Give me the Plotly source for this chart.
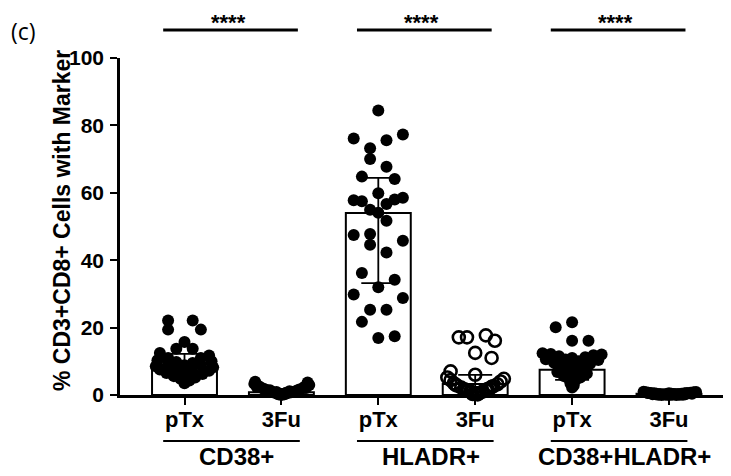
import plotly.graph_objects as go

# ---------------- data ----------------
categories = ["pTx", "3Fu", "pTx", "3Fu", "pTx", "3Fu"]
groups = ["CD38+", "HLADR+", "CD38+HLADR+"]
significance = ["****", "****", "****"]
y_ticks = [0, 20, 40, 60, 80, 100]
y_title = "% CD3+CD8+ Cells with Marker"
panel_label = "(c)"

bar_values = [9.0, 0.8, 54.0, 3.3, 7.5, 0.4]
err_plus = [3.2, 0.6, 10.4, 2.7, 3.5, 0.3]
err_minus = [2.5, 0.5, 20.8, 2.5, 3.0, 0.3]

cd38_ptx = [22.1, 22.1, 19.4, 19.4, 15.7, 13.7, 13.7, 12.5, 11.7, 11.0, 11.0,
            10.3, 10.0, 9.8, 9.5, 9.2, 9.0, 8.8, 8.5, 8.2, 8.0,
            7.6, 7.2, 7.0, 6.8, 6.5, 6.2, 6.0, 5.6, 5.2, 4.8, 4.3, 3.5]
cd38_ptx_slot = [-2, 1, -2, 2, 0, -1, 1, -3, 3, -2, 2,
                 -3.3, 3.3, -1, 1, -2, 2, 0, -3.5, 3.5, -1.5,
                 -3, 3, -1, 1, -2.2, 2.2, 0, -1.3, 1.3, -0.5, 0.6, 0]

cd38_3fu = [3.9, 3.7, 3.3, 3.0, 2.7, 2.5, 2.2, 2.0, 1.8, 1.6, 1.5, 1.3, 1.2, 1.0,
            0.9, 0.8, 0.7, 0.6, 0.5, 0.5, 0.4, 0.3, 0.3, 0.2, 0.2, 0.1, 0.1,
            1.4, 1.1, 0.9, 0.7, 2.4, 2.1]
cd38_3fu_slot = [-3.2, 3.2, -3.3, 3.4, -2.8, 2.9, -2.5, 2.6, -2.1, 2.2, -1.8, 1.9,
                 -1.5, 1.5, -1.1, 1.2, -0.8, 0.8, -0.5, 0.5, -0.2, 0.2, 0, -0.4,
                 0.4, -0.1, 0.1, -1.4, 1.0, -0.6, 0.6, -3.0, 3.0]

hladr_ptx = [84.4, 76.1, 75.6, 77.3, 73.2, 70.0, 67.7, 64.8, 64.1, 59.9, 57.8,
             57.5, 56.7, 58.0, 58.5, 55.0, 54.1, 51.7, 47.5, 47.8, 44.6, 45.8,
             42.3, 36.2, 34.2, 32.0, 29.8, 28.8, 25.3, 25.3, 21.7, 16.9, 17.4]
hladr_ptx_slot = [0, -3, 1, 3, -1, -1, 1, -2, 2, 0, -3,
                  -2, 1, 2, 3, -1, 0, 1, -3, -1, -1, 3,
                  1, -2, 2, 0, -3, 3, -1, 1, -2, 0, 2]

hladr_3fu = [17.1, 17.1, 17.7, 16.1, 12.5, 11.0, 7.0, 6.0,
             5.2, 4.8, 4.4, 4.0, 3.5, 3.2, 2.8, 2.6, 2.2, 2.0, 1.7, 1.5, 1.2,
             1.0, 0.8, 0.6, 0.4, 0.3, 0.2, 1.4, 1.8, 3.0, 0.5, 2.4, 1.1]
hladr_3fu_slot = [-2, -1, 1.3, 2.4, 0, 2, -3, 0,
                  -3.4, 3.5, -3, 3.1, -2.6, 2.7, -2.2, 2.2, -1.7, 1.8, -1.3, 1.3,
                  -0.9, 0.9, -0.5, 0.5, 0, -0.3, 0.3, -1.0, 1.5, -2.4, 0.1, 2.0, -0.6]

dual_ptx = [21.6, 20.1, 16.1, 16.1, 12.4, 12.0, 12.2, 11.8, 11.5, 11.2, 11.0,
            10.6, 10.4, 10.5, 10.0, 9.6, 9.3, 9.0, 8.4, 8.0, 7.6, 7.2, 6.8, 6.4,
            6.0, 5.6, 5.2, 4.8, 4.4, 4.0, 3.4, 2.8, 2.2]
dual_ptx_slot = [0, -2, 0, 2, -3.6, 3.6, -2.6, 2.6, -1.6, 1.6, 0,
                 -3.2, 3.2, -0.8, 0.8, -2.2, 2.2, 0, -1.4, 1.4, -0.6, 0.6, -1.8,
                 1.8, 0, -1.0, 1.0, -0.4, 0.4, 0, -0.2, 0.2, 0]

dual_3fu = [1.0, 0.9, 0.8, 0.8, 0.7, 0.7, 0.6, 0.6, 0.5, 0.5, 0.5, 0.4, 0.4,
            0.4, 0.3, 0.3, 0.3, 0.3, 0.2, 0.2, 0.2, 0.2, 0.1, 0.1, 0.1, 0.1,
            0.0, 0.0, 0.0, 0.6, 0.4, 0.2, 0.1]
dual_3fu_slot = [-3.1, 3.3, -2.8, 3.0, -2.5, 2.6, -2.2, 2.2, -1.8, 1.9, 0, -1.5,
                 1.5, 0.3, -1.1, 1.1, -0.3, 0.6, -0.7, 0.8, -2.0, 2.0, -0.4, 0.4,
                 -1.3, 1.3, 0, -0.9, 0.9, -2.6, 2.8, -1.6, 1.7]

point_sets = [
    (cd38_ptx, cd38_ptx_slot, False),
    (cd38_3fu, cd38_3fu_slot, False),
    (hladr_ptx, hladr_ptx_slot, False),
    (hladr_3fu, hladr_3fu_slot, True),
    (dual_ptx, dual_ptx_slot, False),
    (dual_3fu, dual_3fu_slot, False),
]

# ---------------- styling ----------------
FONT = "Liberation Sans"
SLOT = 0.0846          # horizontal jitter step (category units)
BAR_W = 0.67
WIN_W, WIN_H = 731, 476
BODY = 8               # default page margin around the plot div
W, H = WIN_W - BODY, WIN_H - BODY
# plot area in window pixels: x 120..731, y 58..395
PL, PR, PT, PB = 120, 731, 58, 395
ML = PL - BODY
MR = 0
MT = PT - BODY
MB = WIN_H - PB
PH = PB - PT
PW = PR - PL


def py(win_y):
    """window pixel row -> paper y"""
    return (PB - win_y) / PH


def pxx(win_x):
    return (win_x - PL) / PW


def bold(size):
    return dict(family=FONT, size=size, color="black", weight="bold")


positions = list(range(len(categories)))

fig = go.Figure()

fig.add_trace(go.Bar(
    x=positions, y=bar_values, width=BAR_W,
    marker=dict(color="white", line=dict(color="black", width=2)),
    error_y=dict(type="data", symmetric=False, array=err_plus,
                 arrayminus=err_minus, color="black", thickness=1.8, width=17),
    showlegend=False, hoverinfo="skip",
))

for i, (vals, slots, is_open) in enumerate(point_sets):
    xs = [positions[i] + s * SLOT for s in slots]
    if is_open:
        marker = dict(symbol="circle-open", size=12, color="black",
                      line=dict(color="black", width=2.6))
    else:
        marker = dict(symbol="circle", size=12, color="black",
                      line=dict(width=0))
    fig.add_trace(go.Scatter(x=xs, y=vals, mode="markers", marker=marker,
                             cliponaxis=False, showlegend=False))

shapes = []
annotations = []
for g, name in enumerate(groups):
    a = positions[2 * g]
    b = positions[2 * g + 1]
    # significance line
    shapes.append(dict(type="line", xref="x", yref="paper",
                       x0=a - 0.22, x1=b + 0.17, y0=py(30), y1=py(30),
                       line=dict(color="black", width=3)))
    annotations.append(dict(xref="x", yref="paper", x=(a + b) / 2 - 0.05,
                            y=py(8.5), text=significance[g], showarrow=False,
                            xanchor="center", yanchor="top", borderpad=0,
                            font=bold(22)))
    # group underline + label
    shapes.append(dict(type="line", xref="x", yref="paper",
                       x0=a - 0.22, x1=b + 0.19, y0=py(441), y1=py(441),
                       line=dict(color="black", width=2)))
    annotations.append(dict(xref="x", yref="paper", x=(a + b) / 2 + 0.04,
                            y=py(457), text=name, showarrow=False,
                            xanchor="center", yanchor="middle",
                            font=bold(24)))

annotations.append(dict(xref="paper", yref="paper", x=pxx(23), y=py(31),
                        text=panel_label, showarrow=False,
                        xanchor="center", yanchor="middle",
                        font=dict(family="Open Sans", size=23, color="black")))

annotations.append(dict(xref="paper", yref="paper", x=pxx(62), y=py(221),
                        text=y_title, showarrow=False, textangle=-90,
                        xanchor="center", yanchor="middle",
                        font=bold(23)))

x_left = -0.6656
x_right = x_left + PW / 96.9

fig.update_layout(
    width=W, height=H,
    margin=dict(l=ML, r=MR, t=MT, b=MB, pad=0, autoexpand=False),
    plot_bgcolor="white", paper_bgcolor="white",
    shapes=shapes, annotations=annotations,
    showlegend=False,
    xaxis=dict(range=[x_left, x_right], tickvals=positions, ticktext=categories,
               automargin=False,
               showline=True, linecolor="black", linewidth=2.5,
               ticks="outside", ticklen=7, tickwidth=2, tickcolor="black",
               ticklabelstandoff=-4,
               showgrid=False, zeroline=False,
               tickfont=bold(22)),
    yaxis=dict(range=[0, 100], tickvals=y_ticks, automargin=False,
               showline=True, linecolor="black", linewidth=2.5,
               ticks="outside", ticklen=7, tickwidth=2, tickcolor="black",
               ticklabelstandoff=2,
               showgrid=False, zeroline=False,
               tickfont=bold(21)),
)

fig.write_html("out.html")
